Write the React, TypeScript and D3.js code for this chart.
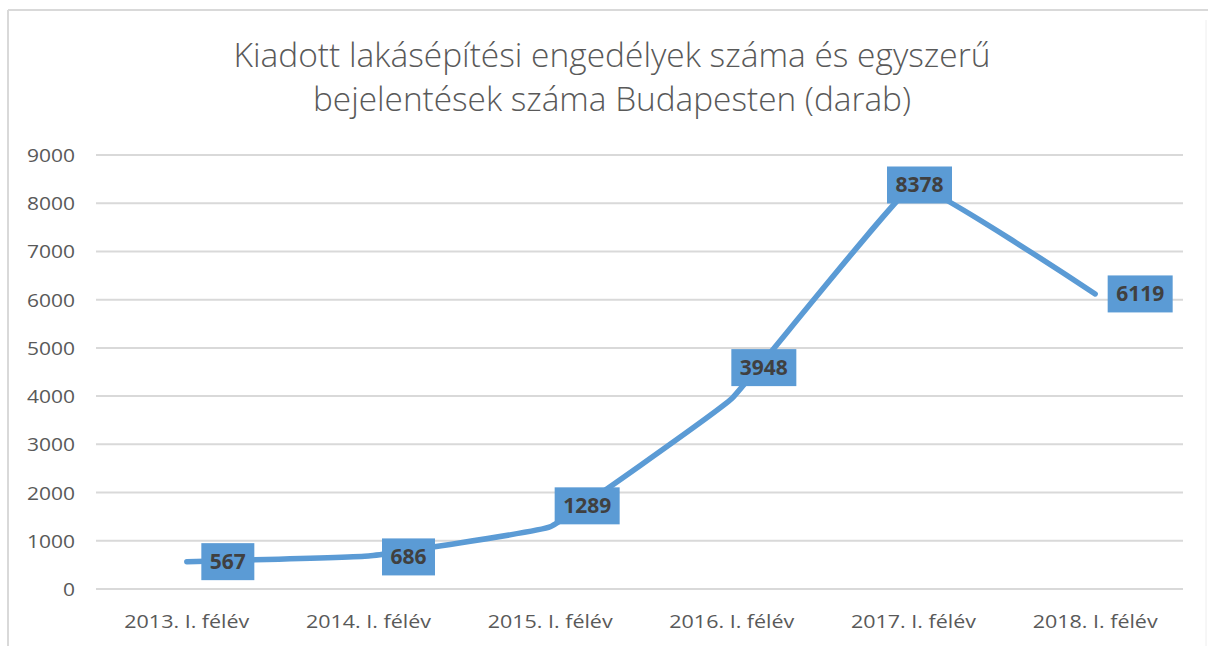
import React from "react";
import * as d3 from "d3";

const categories = ["2013. I. félév", "2014. I. félév", "2015. I. félév", "2016. I. félév", "2017. I. félév", "2018. I. félév"];
const values = [567, 686, 1289, 3948, 8378, 6119];
const yTicks = [0, 1000, 2000, 3000, 4000, 5000, 6000, 7000, 8000, 9000];
// label offsets relative to point (data-label placement)
const labelDx = [41, 40, 37, 32, 6, 45];
const labelDy = [0, 1, -21, -31, 0, 0];
const titleLines = ["Kiadott lakásépítési engedélyek száma és egyszerű", "bejelentések száma Budapesten (darab)"];

const W = 1208, H = 646;
const left = 96, right = 1186, top = 155, bottom = 589;

export default function App() {
  const x = d3.scaleBand<string>().domain(categories).range([left, right]);
  const y = d3.scaleLinear().domain([0, 9000]).range([bottom, top]);
  const cx = (c: string) => (x(c) as number) + x.bandwidth() / 2;
  const line = d3
    .line<number>()
    .x((_, i) => cx(categories[i]))
    .y((d) => y(d))
    .curve(d3.curveCardinal.tension(0.8));
  const font = "'Open Sans', 'Noto Sans', sans-serif";
  return (
    <svg width={W} height={H} style={{ position: "absolute", left: 0, top: 0, background: "#fff" }}>
      <rect x={0} y={0} width={W} height={H} fill="#fff" />
      <line x1={8} x2={W} y1={10} y2={10} stroke="#d9d9d9" strokeWidth={2} />
      <line x1={8} x2={8} y1={10} y2={H} stroke="#d9d9d9" strokeWidth={2} />
      <line x1={1206} x2={1206} y1={20} y2={H} stroke="#eeeeee" strokeWidth={1} />
      {titleLines.map((t, i) => (
        <text
          key={i}
          x={612}
          y={67 + i * 44}
          textAnchor="middle"
          fontFamily={font}
          fontWeight={300}
          fontSize={33}
          fill="#595959"
          textLength={i === 0 ? 757 : 598}
          lengthAdjust="spacingAndGlyphs"
        >
          {t}
        </text>
      ))}
      {yTicks.map((t) => (
        <g key={t}>
          <line x1={left} x2={right - 3} y1={y(t)} y2={y(t)} stroke="#d9d9d9" strokeWidth={2} />
          <text
            x={75}
            y={y(t) + 7}
            textAnchor="end"
            fontFamily={font}
            fontSize={19}
            fill="#595959"
            textLength={String(t).length * 12}
            lengthAdjust="spacingAndGlyphs"
          >
            {t}
          </text>
        </g>
      ))}
      {categories.map((c) => (
        <text
          key={c}
          x={cx(c)}
          y={628}
          textAnchor="middle"
          fontFamily={font}
          fontSize={19}
          fill="#595959"
          textLength={125}
          lengthAdjust="spacingAndGlyphs"
        >
          {c}
        </text>
      ))}
      <path d={line(values) || ""} fill="none" stroke="#5b9bd5" strokeWidth={5.5} strokeLinecap="round" strokeLinejoin="round" />
      {values.map((v, i) => {
        const px = cx(categories[i]) + labelDx[i];
        const py = y(v) + labelDy[i];
        const w = v >= 1000 ? 65 : 53;
        return (
          <g key={i}>
            <rect x={px - w / 2} y={py - 18.5} width={w} height={37} fill="#5b9bd5" />
            <text x={px} y={py + 7.5} textAnchor="middle" fontFamily={font} fontWeight={700} fontSize={21} fill="#404040">
              {v}
            </text>
          </g>
        );
      })}
    </svg>
  );
}
